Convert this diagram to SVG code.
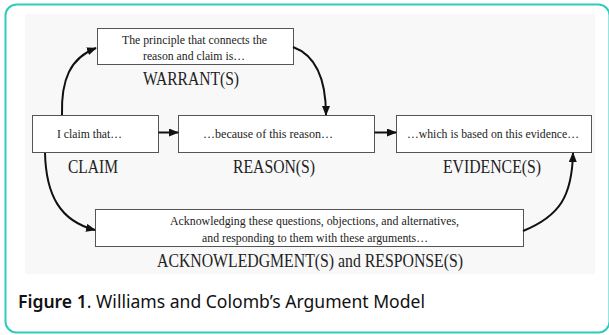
<svg xmlns="http://www.w3.org/2000/svg" width="609" height="335" viewBox="0 0 609 335">
<style>
.box{fill:#ffffff;stroke:#555555;stroke-width:1}
.t{font-family:"Liberation Serif","Times New Roman",serif;font-size:13.5px;fill:#222222;text-anchor:middle}
.lbl{font-family:"Liberation Serif","Times New Roman",serif;font-size:19px;fill:#222222;text-anchor:middle}
.con{fill:none;stroke:#111111;stroke-width:2}
.cap{font-family:"Noto Sans","Open Sans",sans-serif;font-size:18px;fill:#111111}
</style>
<defs>
<marker id="ah" viewBox="0 0 10 8" refX="9" refY="4" markerWidth="10" markerHeight="8" markerUnits="userSpaceOnUse" orient="auto">
<path d="M0,0 L10,4 L0,8 Z" fill="#111111"/>
</marker>
</defs>
<rect x="5.5" y="4.5" width="604" height="328" rx="11" fill="#ffffff" stroke="#2fcbbf" stroke-width="2"/>
<rect x="25" y="14" width="570" height="260" fill="#f8f8f8"/>
<g id="warrant">
<rect class="box" x="97.5" y="28.5" width="196" height="36"/>
<text class="t" x="194.5" y="44" textLength="145" lengthAdjust="spacingAndGlyphs">The principle that connects the</text>
<text class="t" x="194" y="60" textLength="102" lengthAdjust="spacingAndGlyphs">reason and claim is…</text>
<text class="lbl" x="191" y="85" textLength="96" lengthAdjust="spacingAndGlyphs">WARRANT(S)</text>
</g>
<g id="claim">
<rect class="box" x="32.5" y="115.5" width="126" height="37"/>
<text class="t" x="89.5" y="137.5" textLength="65" lengthAdjust="spacingAndGlyphs">I claim that…</text>
<text class="lbl" x="93" y="173" textLength="50" lengthAdjust="spacingAndGlyphs">CLAIM</text>
</g>
<g id="reason">
<rect class="box" x="178.5" y="115.5" width="196" height="37"/>
<text class="t" x="268" y="137.5" textLength="130" lengthAdjust="spacingAndGlyphs">…because of this reason…</text>
<text class="lbl" x="274" y="173" textLength="82" lengthAdjust="spacingAndGlyphs">REASON(S)</text>
</g>
<g id="evidence">
<rect class="box" x="396.5" y="115.5" width="195" height="37"/>
<text class="t" x="493" y="137.5" textLength="172" lengthAdjust="spacingAndGlyphs">…which is based on this evidence…</text>
<text class="lbl" x="492" y="173" textLength="98" lengthAdjust="spacingAndGlyphs">EVIDENCE(S)</text>
</g>
<g id="acknowledgment">
<rect class="box" x="95.5" y="209.5" width="428" height="37"/>
<text class="t" x="314.5" y="224.5" textLength="289" lengthAdjust="spacingAndGlyphs">Acknowledging these questions, objections, and alternatives,</text>
<text class="t" x="315" y="241.5" textLength="226" lengthAdjust="spacingAndGlyphs">and responding to them with these arguments…</text>
<text class="lbl" x="310" y="267" textLength="306" lengthAdjust="spacingAndGlyphs">ACKNOWLEDGMENT(S) and RESPONSE(S)</text>
</g>
<g id="connectors">
<path class="con" d="M158.5,132.5 L178,132.5" marker-end="url(#ah)"/>
<path class="con" d="M374.5,132.5 L396,132.5" marker-end="url(#ah)"/>
<path class="con" d="M62,115 C61,80 70,58 96,48" marker-end="url(#ah)"/>
<path class="con" d="M293,47 C315,55 326,78 326,115" marker-end="url(#ah)"/>
<path class="con" d="M45,153 C46,195 60,221 95,230" marker-end="url(#ah)"/>
<path class="con" d="M523,231 C560,216 572,196 573,153" marker-end="url(#ah)"/>
</g>
<text class="cap" x="18" y="308" textLength="407" lengthAdjust="spacingAndGlyphs"><tspan font-weight="600">Figure 1</tspan>. Williams and Colomb’s Argument Model</text>
</svg>
